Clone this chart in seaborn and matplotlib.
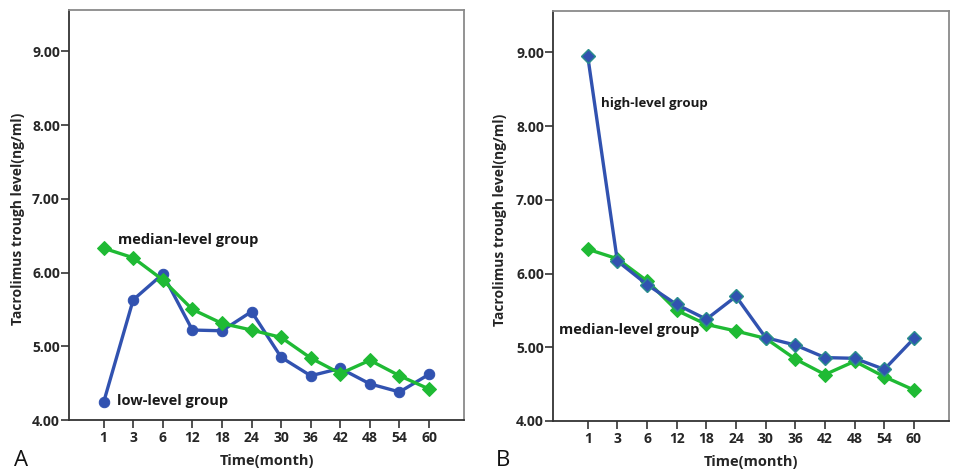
import matplotlib
matplotlib.use("Agg")
import matplotlib.pyplot as plt
import seaborn as sns
import pandas as pd

months = ["1", "3", "6", "12", "18", "24", "30", "36", "42", "48", "54", "60"]
median_level = [6.33, 6.20, 5.90, 5.50, 5.31, 5.22, 5.12, 4.84, 4.63, 4.81, 4.60, 4.42]
low_level = [4.24, 5.63, 5.98, 5.22, 5.21, 5.47, 4.85, 4.60, 4.70, 4.49, 4.38, 4.62]
high_level = [8.95, 6.17, 5.85, 5.58, 5.38, 5.69, 5.13, 5.03, 4.86, 4.85, 4.70, 5.12]
y_ticks = [4.0, 5.0, 6.0, 7.0, 8.0, 9.0]

sns.set_theme(style="white")
plt.rcParams["font.family"] = ["Open Sans", "DejaVu Sans"]

BLUE = "#3152b0"
GREEN = "#1fba34"
TEAL = "#2a8f8c"

fig = plt.figure(figsize=(9.56, 4.72), dpi=100)
axA = fig.add_axes([69/956, 52/472, 395/956, 410/472])
axB = fig.add_axes([553/956, 51/472, 396/956, 410/472])

dfA_low = pd.DataFrame({"month": months, "value": low_level})
dfA_med = pd.DataFrame({"month": months, "value": median_level})
dfB_high = pd.DataFrame({"month": months, "value": high_level})

lw = 2.4
sns.lineplot(data=dfA_low, x="month", y="value", sort=False, ax=axA, color=BLUE,
             lw=lw, marker="o", markersize=7.5, markeredgecolor=BLUE, zorder=2)
sns.lineplot(data=dfA_med, x="month", y="value", sort=False, ax=axA, color=GREEN,
             lw=lw, marker="D", markersize=7.5, markeredgecolor=GREEN, zorder=3)

sns.lineplot(data=dfA_med, x="month", y="value", sort=False, ax=axB, color=GREEN,
             lw=lw, marker="D", markersize=7.5, markeredgecolor=GREEN, zorder=2)
sns.lineplot(data=dfB_high, x="month", y="value", sort=False, ax=axB, color=BLUE,
             lw=lw, marker="D", markersize=7.5, markeredgecolor=TEAL, markeredgewidth=1.0, zorder=3)

for ax, ylx in ((axA, -0.111), (axB, -0.116)):
    ax.set_xlim(-1.17, 11 + 1.18)
    ax.set_ylim(4.0, 9.56)
    ax.set_yticks(y_ticks)
    ax.set_yticklabels([f"{v:.2f}" for v in y_ticks], fontsize=10, fontweight="bold")
    ax.set_xticks(range(len(months)))
    ax.set_xticklabels(months, fontsize=10, fontweight="bold")
    ax.tick_params(axis="both", which="both", direction="out", length=6, width=1.2,
                   color="#333333", bottom=True, left=True)
    ax.tick_params(axis="y", pad=0.5)
    ax.tick_params(axis="x", pad=2)
    ax.set_xlabel("Time(month)", fontsize=10.5, fontweight="bold")
    ax.set_ylabel("Tacrolimus trough level(ng/ml)", fontsize=10, fontweight="bold")
    ax.xaxis.set_label_coords(0.5, -0.083)
    ax.yaxis.set_label_coords(ylx, 0.49)
    for side in ("left", "bottom"):
        ax.spines[side].set_color("#333333")
        ax.spines[side].set_linewidth(1.3)
    for side in ("top", "right"):
        ax.spines[side].set_color("#8a8a8a")
        ax.spines[side].set_linewidth(1.3)
    ax.grid(False)

axA.text(0.5, 6.33 + 0.02, "median-level group", fontsize=10.5, fontweight="bold",
         va="bottom", ha="left", color="#1a1a1a")
axA.text(0.45, 4.24 + 0.02, "low-level group", fontsize=10.5, fontweight="bold",
         va="center", ha="left", color="#1a1a1a")
axB.text(0.45, 8.3, "high-level group", fontsize=9.5, fontweight="bold",
         va="center", ha="left", color="#1a1a1a")
axB.text(-0.98, 5.23, "median-level group", fontsize=10.5, fontweight="bold",
         va="center", ha="left", color="#1a1a1a")

fig.text(14/956, 1 - 460/472, "A", fontsize=16, va="center", ha="left", color="#111111")
fig.text(496/956, 1 - 460/472, "B", fontsize=16, va="center", ha="left", color="#111111")

fig.savefig("out.png", dpi=100)
